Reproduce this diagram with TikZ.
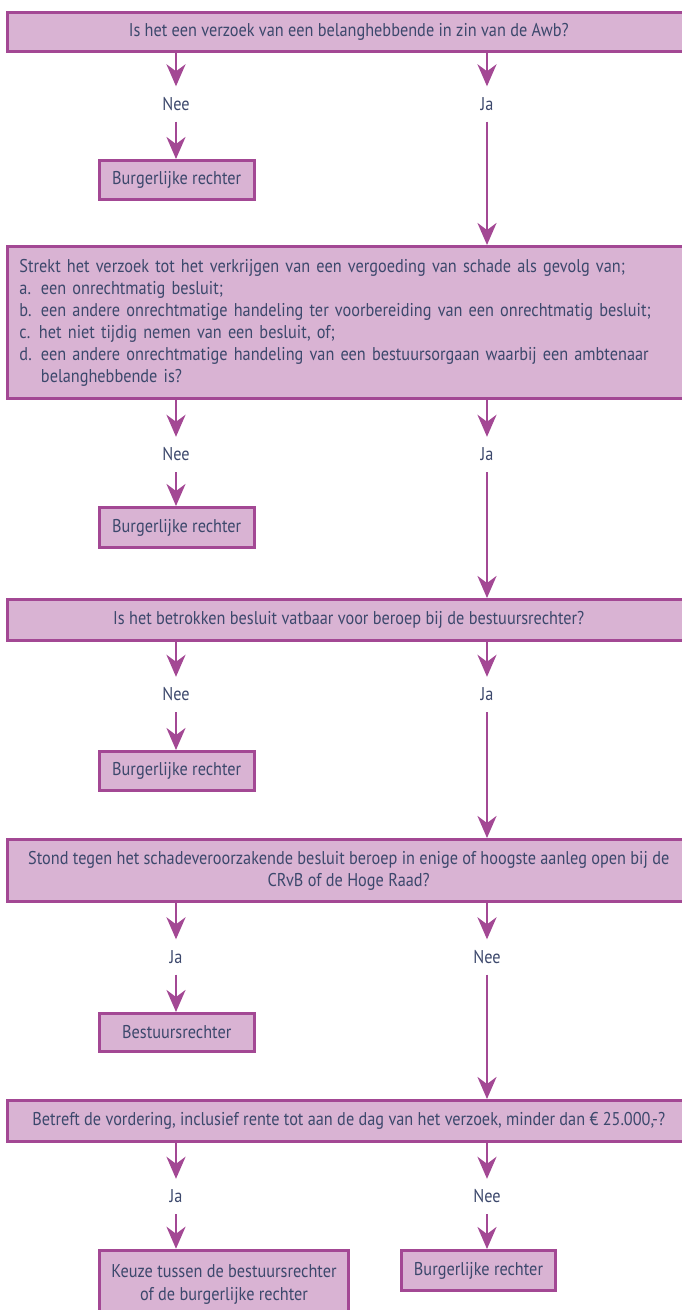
\documentclass[tikz,border=0pt]{standalone}
\usepackage{fontspec}
\setmainfont{PT Sans}[FakeStretch=0.88]
\usetikzlibrary{arrows.meta}
\definecolor{boxfill}{RGB}{217,179,211}
\definecolor{boxline}{RGB}{163,72,148}
\definecolor{txt}{RGB}{60,72,108}
\begin{document}
\begin{tikzpicture}[x=1pt,y=-1pt,
  every node/.style={font=\fontsize{18.5}{22}\selectfont, text=txt},
  box/.style={draw=boxline, fill=boxfill, line width=3pt, inner sep=0pt, rectangle},
  small/.style={box, minimum width=155.5pt},
  wide/.style={box, minimum width=682.5pt, align=center},
  lab/.style={inner sep=0pt, minimum height=35pt, minimum width=30pt},
  arr/.style={draw=boxline, line width=2.8pt, -{Stealth[length=22pt,width=19pt,inset=7pt]}},
]
\useasboundingbox (0,0) rectangle (681,1310);

% question 1
\node[wide, minimum height=39pt] (q1) at (348.75,32) {Is het een verzoek van een belanghebbende in zin van de Awb?};
\node[lab] (n1) at (176,104) {Nee};
\node[lab] (j1) at (487,104) {Ja};
\node[small, minimum height=39pt] (b1) at (176.75,180) {Burgerlijke rechter};

% question 2
\node[wide, minimum height=152pt, align=left, text width=658.5pt, inner xsep=12pt] (q2) at (348.75,322.5) {Strekt het verzoek tot het verkrijgen van een vergoeding van schade als gevolg van;\\
\makebox[21.5pt][l]{a.}een onrechtmatig besluit;\\
\makebox[21.5pt][l]{b.}een andere onrechtmatige handeling ter voorbereiding van een onrechtmatig besluit;\\
\makebox[19.5pt][l]{c.}het niet tijdig nemen van een besluit, of;\\
\makebox[21.5pt][l]{d.}een andere onrechtmatige handeling van een bestuursorgaan waarbij een ambtenaar\\
\hspace*{21.5pt}belanghebbende is?};
\node[lab] (n2) at (176,454.5) {Nee};
\node[lab] (j2) at (487,454.5) {Ja};
\node[small, minimum height=40pt] (b2) at (176.75,527.5) {Burgerlijke rechter};

% question 3
\node[wide, minimum height=41pt] (q3) at (348.75,620) {Is het betrokken besluit vatbaar voor beroep bij de bestuursrechter?};
\node[lab] (n3) at (176,694.5) {Nee};
\node[lab] (j3) at (487,694.5) {Ja};
\node[small, minimum height=39pt] (b3) at (176.75,771) {Burgerlijke rechter};

% question 4
\node[wide, minimum height=62pt] (q4) at (348.75,870.5) {Stond tegen het schadeveroorzakende besluit beroep in enige of hoogste aanleg open bij de\\CRvB of de Hoge Raad?};
\node[lab] (n4) at (176,957) {Ja};
\node[lab] (j4) at (487,957) {Nee};
\node[small, minimum height=38pt] (b4) at (176.75,1032.5) {Bestuursrechter};

% question 5
\node[wide, minimum height=41pt] (q5) at (348.75,1121) {Betreft de vordering, inclusief rente tot aan de dag van het verzoek, minder dan € 25.000,-?};
\node[lab] (n5) at (176,1196.5) {Ja};
\node[lab] (j5) at (487,1196.5) {Nee};
\node[box, minimum width=249pt, minimum height=67.5pt, align=center, font=\fontsize{18.5}{23}\selectfont] (b5) at (224,1284) {Keuze tussen de bestuursrechter\\of de burgerlijke rechter};
\node[box, minimum width=154pt, minimum height=40pt] (b6) at (478.5,1270.5) {Burgerlijke rechter};

% connectors
\draw[arr] (q1.south -| n1) -- (n1.north);
\draw[arr] (n1.south) -- (n1.south |- b1.north);
\draw[arr] (q1.south -| j1) -- (j1.north);
\draw[arr] (j1.south) -- (j1.south |- q2.north);

\draw[arr] (q2.south -| n2) -- (n2.north);
\draw[arr] (n2.south) -- (n2.south |- b2.north);
\draw[arr] (q2.south -| j2) -- (j2.north);
\draw[arr] (j2.south) -- (j2.south |- q3.north);

\draw[arr] (q3.south -| n3) -- (n3.north);
\draw[arr] (n3.south) -- (n3.south |- b3.north);
\draw[arr] (q3.south -| j3) -- (j3.north);
\draw[arr] (j3.south) -- (j3.south |- q4.north);

\draw[arr] (q4.south -| n4) -- (n4.north);
\draw[arr] (n4.south) -- (n4.south |- b4.north);
\draw[arr] (q4.south -| j4) -- (j4.north);
\draw[arr] (j4.south) -- (j4.south |- q5.north);

\draw[arr] (q5.south -| n5) -- (n5.north);
\draw[arr] (n5.south) -- (n5.south |- b5.north);
\draw[arr] (q5.south -| j5) -- (j5.north);
\draw[arr] (j5.south) -- (j5.south |- b6.north);
\end{tikzpicture}
\end{document}
